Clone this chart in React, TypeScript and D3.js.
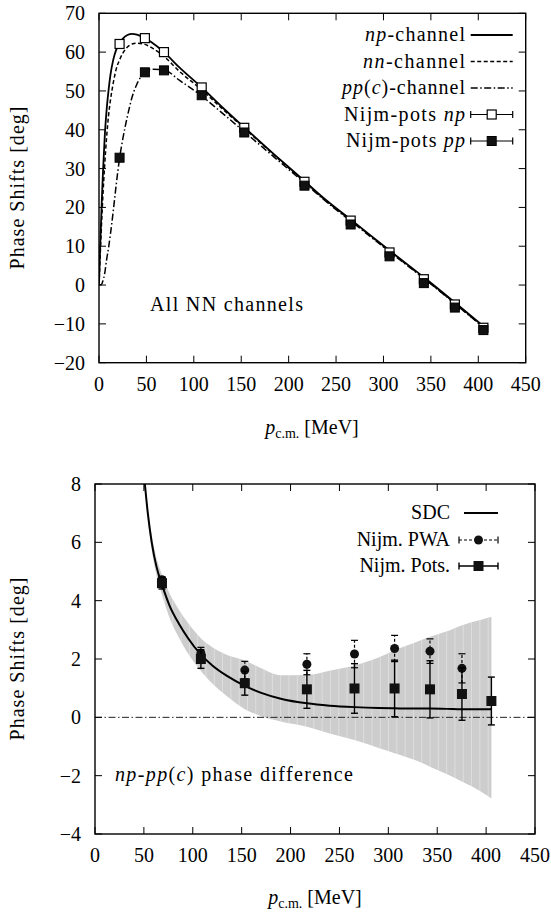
import React from 'react';
import * as d3 from 'd3';

const W = 551;
const H = 915;

// ---------- data: top panel (1S0 phase shifts, deg) ----------
const pCurve = [0, 1, 2, 3, 4, 5, 6, 8, 10, 12, 15, 18, 21.7, 25, 30, 35, 40, 48.4, 55, 68.5, 85, 108.3, 130, 153.2, 185, 216.7, 240, 265.4, 306.4, 342.6, 375.3, 405.4];
const npChannel = [0, 8, 15, 22, 28, 33, 38, 45, 50, 54, 58, 60.5, 62.1, 63.4, 64.4, 64.7, 64.5, 63.6, 62.6, 60.0, 56.0, 50.9, 45.8, 40.6, 33.6, 26.8, 21.8, 16.9, 8.9, 2.0, -4.5, -10.6];
const nnChannel = [0, 6, 12, 17.5, 22.5, 27, 31, 38, 43.5, 47.5, 52, 55.5, 58, 59.7, 61.3, 62.1, 62.3, 62.0, 61.2, 58.9, 55.0, 50.3, 45.4, 40.4, 33.4, 26.6, 21.6, 16.7, 8.7, 1.8, -4.7, -10.8];
const ppChannel = [0, 0, 0.1, 0.3, 1, 1.8, 3, 6.5, 9.5, 13, 19, 25.5, 32.7, 37.5, 43.5, 48.5, 51.8, 54.8, 55.6, 55.4, 52.7, 48.7, 44.3, 39.5, 32.9, 26.3, 21.4, 16.5, 8.6, 1.7, -4.8, -10.9];

const pPoints = [21.7, 48.4, 68.5, 108.3, 153.2, 216.7, 265.4, 306.4, 342.6, 375.3, 405.4];
const nijmPotsNp = [62.1, 63.6, 60.0, 50.9, 40.5, 26.6, 16.6, 8.4, 1.5, -5.0, -11.0];
const nijmPotsPp = [32.8, 54.8, 55.3, 48.9, 39.3, 25.6, 15.6, 7.4, 0.5, -5.8, -11.6];

// ---------- data: bottom panel (np - pp(c) difference, deg) ----------
const pSdc = [51, 54, 58, 63, 68.5, 76, 86, 95, 108.3, 120, 135, 153.2, 170, 190, 216.7, 240, 265.4, 290, 306.4, 330, 342.6, 360, 375.3, 395, 405.4];
const sdc = [8.0, 7.0, 6.0, 5.15, 4.55, 3.85, 3.2, 2.72, 2.15, 1.78, 1.42, 1.08, 0.84, 0.64, 0.48, 0.4, 0.35, 0.32, 0.31, 0.3, 0.3, 0.29, 0.28, 0.28, 0.28];
const sdcUpper = [8.15, 7.2, 6.25, 5.45, 4.9, 4.27, 3.68, 3.24, 2.71, 2.4, 2.14, 1.95, 1.68, 1.44, 1.45, 1.6, 1.78, 2.05, 2.3, 2.6, 2.76, 2.95, 3.16, 3.35, 3.45];
const sdcLower = [7.85, 6.8, 5.75, 4.85, 4.2, 3.43, 2.72, 2.2, 1.59, 1.16, 0.72, 0.28, 0.04, -0.14, -0.32, -0.55, -0.78, -1.05, -1.23, -1.5, -1.69, -1.95, -2.2, -2.55, -2.78];

const pPwa = [68.5, 108.3, 153.2, 216.7, 265.4, 306.4, 342.6, 375.3];
const pwaDiff = [4.72, 2.2, 1.62, 1.82, 2.17, 2.36, 2.27, 1.68];
const pwaErr = [0.1, 0.2, 0.3, 0.36, 0.47, 0.45, 0.42, 0.5];

const pPots = [68.5, 108.3, 153.2, 216.7, 265.4, 306.4, 342.6, 375.3, 405.4];
const potsDiff = [4.6, 2.0, 1.17, 0.96, 0.99, 0.99, 0.96, 0.8, 0.56];
const potsErr = [0.2, 0.32, 0.41, 0.65, 0.85, 0.97, 0.98, 0.9, 0.82];

const xTicks = [0, 50, 100, 150, 200, 250, 300, 350, 400, 450];
const yTicksTop = [-20, -10, 0, 10, 20, 30, 40, 50, 60, 70];
const yTicksBot = [-4, -2, 0, 2, 4, 6, 8];

const FONT = '"Liberation Serif", "DejaVu Serif", "Noto Serif", "Times", serif';
const FS = 20;
const fmt = d3.format('d');

const topX = d3.scaleLinear().domain([0, 450]).range([99, 525.7]);
const topY = d3.scaleLinear().domain([-20, 70]).range([362.7, 13.3]);
const botX = d3.scaleLinear().domain([0, 450]).range([95, 535]);
const botY = d3.scaleLinear().domain([-4, 8]).range([834, 484]);

const TS: React.CSSProperties = { fontFamily: FONT };

function Frame({ x, y, yTicks }: any) {
  const [x0, x1] = x.range();
  const [y0, y1] = y.range();
  const TL = 7;
  return (
    <g>
      {xTicks.map((t) => (
        <g key={'x' + t}>
          <line x1={x(t)} x2={x(t)} y1={y0} y2={y0 - TL} stroke="#000" strokeWidth={1} />
          <line x1={x(t)} x2={x(t)} y1={y1} y2={y1 + TL} stroke="#000" strokeWidth={1} />
          <text style={TS} x={x(t)} y={y0 + 28} textAnchor="middle" fontSize={FS}>{fmt(t)}</text>
        </g>
      ))}
      {yTicks.map((t: number) => (
        <g key={'y' + t}>
          <line x1={x0} x2={x0 + TL} y1={y(t)} y2={y(t)} stroke="#000" strokeWidth={1} />
          <line x1={x1} x2={x1 - TL} y1={y(t)} y2={y(t)} stroke="#000" strokeWidth={1} />
          <text style={TS} x={x0 - 14} y={y(t)} dy="0.35em" textAnchor="end" fontSize={FS}>{fmt(t)}</text>
        </g>
      ))}
      <rect x={x0} y={y1} width={x1 - x0} height={y0 - y1} fill="none" stroke="#000" strokeWidth={1.4} />
    </g>
  );
}

function XTitle({ cx, y }: any) {
  return (
    <text style={TS} x={cx} y={y} textAnchor="middle" fontSize={FS}>
      <tspan fontStyle="italic">p</tspan>
      <tspan fontSize={14} dy={4}>c.m.</tspan>
      <tspan dy={-4}> [MeV]</tspan>
    </text>
  );
}

function YTitle({ x, cy }: any) {
  return (
    <text style={TS} transform={`translate(${x},${cy}) rotate(-90)`} textAnchor="middle" fontSize={FS} textLength={163} lengthAdjust="spacing">
      Phase Shifts [deg]
    </text>
  );
}

export default function App() {
  const lineTop = (vals: number[]) =>
    d3.line<number>().x((_, i) => topX(pCurve[i])).y((d) => topY(d)).curve(d3.curveMonotoneX)(vals) as string;

  const sdcLine = d3.line<number>().x((_, i) => botX(pSdc[i])).y((d) => botY(d)).curve(d3.curveMonotoneX)(sdc) as string;
  const band = d3.area<number>()
    .x((_, i) => botX(pSdc[i]))
    .y0((_, i) => botY(sdcLower[i]))
    .y1((_, i) => botY(sdcUpper[i]))
    .curve(d3.curveMonotoneX)(pSdc) as string;

  const stripeXs = d3.range(botX(pSdc[0]) + 3, botX(pSdc[pSdc.length - 1]), 8.3);

  // top legend
  const legX = 465;
  const sx0 = 470.7, sx1 = 512.7, sxm = (sx0 + sx1) / 2;
  const rows = [35, 61.5, 88, 114.5, 141];
  const sq = 9;

  // bottom legend
  const bl = { tx: 450, s0: 459, s1: 498, rows: [513, 540, 566] };
  const bsm = (bl.s0 + bl.s1) / 2;

  return (
    <svg width={W} height={H} style={{ display: 'block', position: 'absolute', left: 0, top: 0, fontFamily: FONT }} fill="#000">
      <rect x={0} y={0} width={W} height={H} fill="#fff" />
      <defs>
        <clipPath id="clipTop">
          <rect x={99} y={13.3} width={426.7} height={349.4} />
        </clipPath>
        <clipPath id="clipBot">
          <rect x={95} y={484} width={440} height={350} />
        </clipPath>
        <clipPath id="clipBand">
          <path d={band} />
        </clipPath>
      </defs>

      {/* ================= TOP PANEL ================= */}
      <g clipPath="url(#clipTop)">
        <path d={lineTop(npChannel)} fill="none" stroke="#000" strokeWidth={1.8} />
        <path d={lineTop(nnChannel)} fill="none" stroke="#000" strokeWidth={1.5} strokeDasharray="4,2.5" />
        <path d={lineTop(ppChannel)} fill="none" stroke="#000" strokeWidth={1.5} strokeDasharray="7,2.5,1.5,2.5" />
        {pPoints.map((p, i) => (
          <rect key={'np' + i} x={topX(p) - sq / 2} y={topY(nijmPotsNp[i]) - sq / 2} width={sq} height={sq} fill="#fff" stroke="#000" strokeWidth={1.2} />
        ))}
        {pPoints.map((p, i) => (
          <rect key={'pp' + i} x={topX(p) - sq / 2} y={topY(nijmPotsPp[i]) - sq / 2} width={sq} height={sq} fill="#111" stroke="#000" strokeWidth={1} />
        ))}
      </g>
      <Frame x={topX} y={topY} yTicks={yTicksTop} />

      {/* top legend */}
      <g fontSize={FS} style={TS}>
        <text x={legX} y={rows[0]} dy="0.32em" textAnchor="end" textLength={100} lengthAdjust="spacing"><tspan fontStyle="italic">np</tspan>-channel</text>
        <line x1={sx0} x2={sx1} y1={rows[0]} y2={rows[0]} stroke="#000" strokeWidth={1.8} />
        <text x={legX} y={rows[1]} dy="0.32em" textAnchor="end" textLength={102} lengthAdjust="spacing"><tspan fontStyle="italic">nn</tspan>-channel</text>
        <line x1={sx0} x2={sx1} y1={rows[1]} y2={rows[1]} stroke="#000" strokeWidth={1.5} strokeDasharray="4,2.5" />
        <text x={legX} y={rows[2]} dy="0.32em" textAnchor="end" textLength={123} lengthAdjust="spacing"><tspan fontStyle="italic">pp</tspan>(<tspan fontStyle="italic">c</tspan>)-channel</text>
        <line x1={sx0} x2={sx1} y1={rows[2]} y2={rows[2]} stroke="#000" strokeWidth={1.5} strokeDasharray="7,2.5,1.5,2.5" />
        <text x={legX} y={rows[3]} dy="0.32em" textAnchor="end" textLength={121} lengthAdjust="spacing">Nijm-pots <tspan fontStyle="italic">np</tspan></text>
        <line x1={sx0} x2={sx1} y1={rows[3]} y2={rows[3]} stroke="#000" strokeWidth={1.2} />
        <line x1={sx0} x2={sx0} y1={rows[3] - 3.5} y2={rows[3] + 3.5} stroke="#000" strokeWidth={1.2} />
        <line x1={sx1} x2={sx1} y1={rows[3] - 3.5} y2={rows[3] + 3.5} stroke="#000" strokeWidth={1.2} />
        <rect x={sxm - sq / 2} y={rows[3] - sq / 2} width={sq} height={sq} fill="#fff" stroke="#000" strokeWidth={1.2} />
        <text x={legX} y={rows[4]} dy="0.32em" textAnchor="end" textLength={119} lengthAdjust="spacing">Nijm-pots <tspan fontStyle="italic">pp</tspan></text>
        <line x1={sx0} x2={sx1} y1={rows[4]} y2={rows[4]} stroke="#000" strokeWidth={1.2} />
        <line x1={sx0} x2={sx0} y1={rows[4] - 3.5} y2={rows[4] + 3.5} stroke="#000" strokeWidth={1.2} />
        <line x1={sx1} x2={sx1} y1={rows[4] - 3.5} y2={rows[4] + 3.5} stroke="#000" strokeWidth={1.2} />
        <rect x={sxm - sq / 2} y={rows[4] - sq / 2} width={sq} height={sq} fill="#111" stroke="#000" strokeWidth={1} />
      </g>

      <text style={TS} x={150} y={311} fontSize={FS} textLength={153} lengthAdjust="spacing">All NN channels</text>
      <XTitle cx={312} y={434} />
      <YTitle x={24} cy={188} />

      {/* ================= BOTTOM PANEL ================= */}
      <g clipPath="url(#clipBot)">
        <path d={band} fill="#cdcdcd" stroke="none" />
        <g clipPath="url(#clipBand)">
          {stripeXs.map((x, i) => (
            <line key={'st' + i} x1={x} x2={x} y1={484} y2={834} stroke="#fff" strokeOpacity={0.35} strokeWidth={1} />
          ))}
        </g>
        <line x1={botX(0)} x2={botX(450)} y1={botY(0)} y2={botY(0)} stroke="#222" strokeWidth={1} strokeDasharray="7,2.5,1.5,2.5" />
        <path d={sdcLine} fill="none" stroke="#000" strokeWidth={2} />
        {pPwa.map((p, i) => {
          const x = botX(p);
          const ya = botY(pwaDiff[i] - pwaErr[i]);
          const yb = botY(pwaDiff[i] + pwaErr[i]);
          return (
            <g key={'pwa' + i}>
              <line x1={x} x2={x} y1={ya} y2={yb} stroke="#000" strokeWidth={1.2} strokeDasharray="3,2" />
              <line x1={x - 3.5} x2={x + 3.5} y1={ya} y2={ya} stroke="#000" strokeWidth={1.2} />
              <line x1={x - 3.5} x2={x + 3.5} y1={yb} y2={yb} stroke="#000" strokeWidth={1.2} />
              <circle cx={x} cy={botY(pwaDiff[i])} r={4.5} fill="#111" />
            </g>
          );
        })}
        {pPots.map((p, i) => {
          const x = botX(p);
          const ya = botY(potsDiff[i] - potsErr[i]);
          const yb = botY(potsDiff[i] + potsErr[i]);
          return (
            <g key={'pots' + i}>
              <line x1={x} x2={x} y1={ya} y2={yb} stroke="#000" strokeWidth={1.4} />
              <line x1={x - 3.5} x2={x + 3.5} y1={ya} y2={ya} stroke="#000" strokeWidth={1.4} />
              <line x1={x - 3.5} x2={x + 3.5} y1={yb} y2={yb} stroke="#000" strokeWidth={1.4} />
              <rect x={x - 5} y={botY(potsDiff[i]) - 5} width={10} height={10} fill="#111" />
            </g>
          );
        })}
      </g>
      <Frame x={botX} y={botY} yTicks={yTicksBot} />

      {/* bottom legend */}
      <g fontSize={FS} style={TS}>
        <text x={bl.tx} y={bl.rows[0]} dy="0.32em" textAnchor="end">SDC</text>
        <line x1={bl.s0 + 5} x2={bl.s1} y1={bl.rows[0]} y2={bl.rows[0]} stroke="#000" strokeWidth={2} />
        <text x={bl.tx} y={bl.rows[1]} dy="0.32em" textAnchor="end">Nijm. PWA</text>
        <line x1={bl.s0} x2={bl.s1} y1={bl.rows[1]} y2={bl.rows[1]} stroke="#000" strokeWidth={1.2} strokeDasharray="3,2" />
        <line x1={bl.s0} x2={bl.s0} y1={bl.rows[1] - 3.5} y2={bl.rows[1] + 3.5} stroke="#000" strokeWidth={1.2} />
        <line x1={bl.s1} x2={bl.s1} y1={bl.rows[1] - 3.5} y2={bl.rows[1] + 3.5} stroke="#000" strokeWidth={1.2} />
        <circle cx={bsm} cy={bl.rows[1]} r={4.5} fill="#111" />
        <text x={bl.tx} y={bl.rows[2]} dy="0.32em" textAnchor="end">Nijm. Pots.</text>
        <line x1={bl.s0} x2={bl.s1} y1={bl.rows[2]} y2={bl.rows[2]} stroke="#000" strokeWidth={1.4} />
        <line x1={bl.s0} x2={bl.s0} y1={bl.rows[2] - 3.5} y2={bl.rows[2] + 3.5} stroke="#000" strokeWidth={1.4} />
        <line x1={bl.s1} x2={bl.s1} y1={bl.rows[2] - 3.5} y2={bl.rows[2] + 3.5} stroke="#000" strokeWidth={1.4} />
        <rect x={bsm - 5} y={bl.rows[2] - 5} width={10} height={10} fill="#111" />
      </g>

      <text style={TS} x={115} y={781} fontSize={FS} textLength={238} lengthAdjust="spacing">
        <tspan fontStyle="italic">np</tspan>-<tspan fontStyle="italic">pp</tspan>(<tspan fontStyle="italic">c</tspan>) phase difference
      </text>
      <XTitle cx={315} y={904} />
      <YTitle x={24} cy={659} />
    </svg>
  );
}
